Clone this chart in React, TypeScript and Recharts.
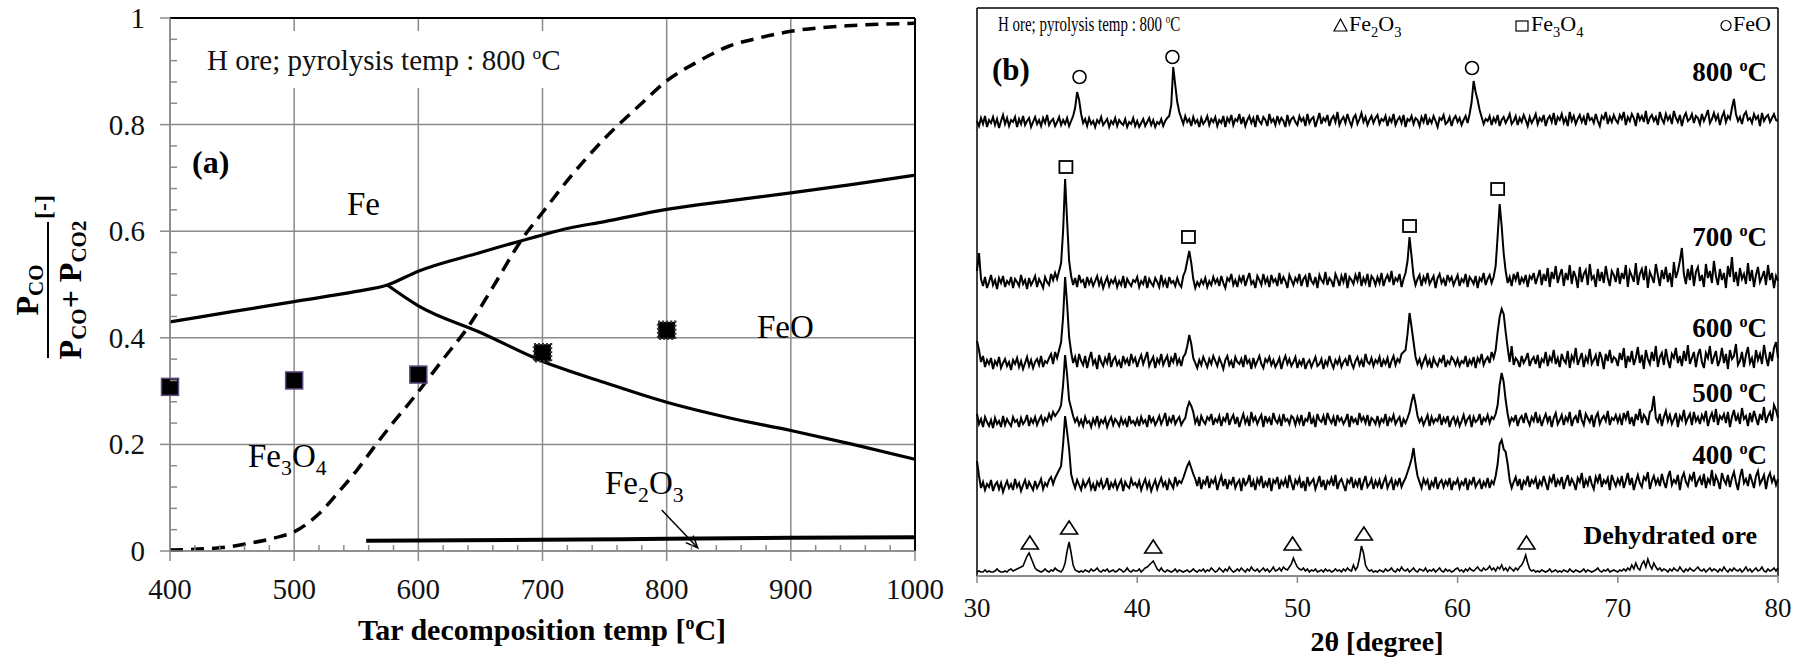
import React from "react";
import {
  ComposedChart,
  Line,
  Scatter,
  XAxis,
  YAxis,
  CartesianGrid,
  ReferenceLine,
} from "recharts";

document.body.style.margin = "0";

const SERIF = '"Liberation Serif", "Times New Roman", serif';
const GRID = "#8a8a8a";

// ---------- (a) equilibrium diagram ----------
const X_MAJOR = [400, 500, 600, 700, 800, 900, 1000];
const X_TICKS = Array.from({ length: 31 }, (_, i) => 400 + i * 20);
const Y_MAJOR = [0, 0.2, 0.4, 0.6, 0.8, 1];
const Y_TICKS = Array.from({ length: 26 }, (_, i) => Math.round(i * 4) / 100);

// Fe / Fe3O4 then Fe / FeO boundary
const UPPER_T = [400, 450, 500, 550, 575, 600, 650, 700, 720, 750, 800, 850, 900, 950, 1000];
const UPPER_V = [0.43, 0.449, 0.468, 0.487, 0.499, 0.525, 0.56, 0.593, 0.605, 0.618, 0.641, 0.657, 0.672, 0.688, 0.705];
// FeO / Fe3O4 boundary
const LOWER_T = [575, 600, 650, 700, 750, 800, 850, 900, 950, 1000];
const LOWER_V = [0.499, 0.46, 0.41, 0.356, 0.316, 0.279, 0.25, 0.226, 0.2, 0.172];
// Fe3O4 / Fe2O3 boundary
const HEM_T = [558, 700, 800, 900, 1000];
const HEM_V = [0.019, 0.021, 0.023, 0.025, 0.026];
// gas equilibrium (dashed)
const EQ_T = [400, 440, 465, 485, 500, 520, 537, 550, 566, 577, 596, 620, 640, 660, 685, 700, 720, 750, 780, 800, 825, 850, 875, 900, 950, 1000];
const EQ_V = [0.002, 0.006, 0.015, 0.025, 0.036, 0.07, 0.114, 0.15, 0.2, 0.233, 0.287, 0.36, 0.42, 0.495, 0.59, 0.635, 0.695, 0.774, 0.84, 0.882, 0.918, 0.947, 0.963, 0.975, 0.986, 0.99];
// measured points
const EXP_T = [400, 500, 600, 700, 800];
const EXP_V = [0.308, 0.32, 0.331, 0.372, 0.414];

const pts = (xs: number[], ys: number[]) => xs.map((x, i) => ({ x, y: ys[i] }));

// ---------- (b) XRD patterns, 2θ from 30 to 80 every 0.125 deg (one row = 5 deg) ----------
const XRD_START = 30;
const XRD_STEP = 0.125;
const XRD_TICKS = [30, 40, 50, 60, 70, 80];

const XRD_800 = [
  9, 4, 12, 6, 14, 3, 10, 7, 13, 5, 11, 2, 9, 15, 6, 12, 4, 10, 8, 13, 3, 11, 6, 14, 5, 9, 12, 3, 8, 13, 6, 10, 4, 12, 7, 15, 5, 9, 11, 4,
  8, 13, 5, 10, 6, 12, 4, 9, 14, 22, 38, 30, 16, 7, 11, 4, 12, 6, 9, 3, 10, 7, 13, 5, 8, 11, 3, 9, 6, 12, 4, 10, 7, 5, 11, 3, 8, 6, 12, 4,
  9, 3, 7, 11, 4, 8, 12, 5, 10, 3, 8, 6, 11, 4, 9, 12, 14, 25, 63, 45, 28, 18, 12, 6, 14, 8, 11, 4, 13, 7, 10, 3, 12, 6, 9, 14, 5, 11, 8, 13,
  4, 10, 7, 14, 3, 12, 8, 15, 5, 11, 9, 16, 6, 13, 4, 10, 14, 7, 12, 3, 15, 9, 6, 13, 10, 4, 16, 8, 11, 5, 14, 7, 12, 9, 3, 15, 6, 11, 13, 8,
  5, 14, 9, 12, 4, 16, 7, 11, 13, 3, 10, 17, 6, 12, 9, 15, 4, 11, 14, 8, 18, 5, 10, 13, 7, 16, 9, 4, 12, 15, 6, 11, 17, 8, 13, 5, 10, 14, 7, 12,
  15, 6, 11, 9, 14, 4, 12, 8, 16, 5, 10, 13, 7, 15, 3, 11, 9, 14, 6, 12, 10, 4, 13, 8, 16, 5, 11, 7, 14, 9, 3, 12, 10, 15, 6, 8, 13, 4, 11, 14,
  8, 12, 5, 10, 14, 7, 16, 28, 49, 38, 30, 20, 13, 6, 11, 9, 14, 5, 12, 8, 15, 4, 10, 13, 7, 11, 16, 6, 9, 14, 5, 12, 8, 15, 10, 4, 13, 7, 11, 16,
  6, 12, 9, 15, 4, 11, 14, 8, 17, 5, 13, 10, 16, 7, 12, 4, 18, 9, 14, 6, 11, 15, 8, 13, 5, 17, 10, 12, 7, 16, 9, 4, 14, 11, 18, 6, 13, 8, 15, 10,
  7, 15, 11, 18, 5, 13, 9, 16, 12, 4, 17, 10, 14, 8, 19, 6, 12, 15, 9, 13, 5, 18, 11, 7, 16, 10, 14, 6, 19, 12, 8, 15, 4, 13, 17, 9, 11, 16, 7, 14,
  12, 6, 16, 9, 14, 20, 7, 11, 17, 10, 15, 5, 13, 18, 8, 14, 11, 22, 31, 16, 9, 13, 6, 15, 18, 10, 12, 7, 16, 11, 14, 4, 17, 9, 13, 15, 8, 12, 16, 10,
  9,
];
const XRD_700 = [
  20, 38, 12, 5, 14, 3, 9, 16, 6, 11, 2, 13, 8, 15, 4, 10, 7, 14, 3, 12, 9, 5, 16, 7, 11, 2, 13, 6, 10, 15, 4, 12, 8, 3, 14, 9, 6, 17, 11, 18,
  12, 20, 28, 60, 112, 70, 30, 15, 6, 13, 4, 16, 9, 11, 3, 14, 7, 12, 5, 10, 15, 6, 12, 3, 9, 14, 5, 11, 8, 13, 4, 10, 6, 15, 3, 12, 8, 5, 11, 9,
  14, 4, 10, 7, 15, 3, 12, 8, 5, 13, 9, 4, 16, 6, 11, 3, 14, 8, 10, 5, 13, 7, 4, 15, 20, 30, 40, 28, 12, 3, 9, 5, 11, 7, 13, 4, 10, 6, 14, 8,
  12, 5, 15, 8, 3, 13, 10, 17, 6, 11, 4, 14, 9, 16, 5, 12, 18, 7, 10, 3, 15, 11, 6, 17, 8, 13, 4, 16, 9, 12, 5, 18, 7, 14, 10, 3, 16, 11, 6, 13,
  9, 17, 5, 12, 15, 4, 18, 10, 7, 14, 3, 16, 11, 8, 19, 6, 13, 10, 4, 17, 12, 5, 15, 9, 18, 3, 14, 11, 7, 16, 10, 19, 5, 13, 8, 17, 4, 15, 12, 6,
  14, 8, 18, 5, 12, 16, 9, 20, 6, 13, 10, 17, 4, 12, 18, 30, 54, 35, 15, 6, 12, 16, 5, 14, 9, 18, 7, 11, 15, 3, 13, 17, 8, 12, 5, 16, 10, 14, 6, 11,
  16, 5, 12, 9, 17, 4, 14, 11, 7, 15, 3, 13, 10, 18, 6, 12, 16, 8, 14, 25, 55, 87, 65, 38, 20, 8, 14, 5, 17, 11, 19, 6, 13, 9, 16, 4, 15, 12, 18, 7,
  14, 21, 6, 17, 10, 23, 4, 19, 12, 25, 8, 16, 22, 5, 18, 11, 26, 7, 20, 14, 3, 24, 9, 17, 21, 6, 27, 12, 15, 4, 22, 10, 19, 8, 25, 13, 5, 20, 16, 9,
  23, 7, 18, 12, 26, 4, 20, 15, 9, 28, 6, 17, 22, 11, 25, 3, 19, 14, 8, 27, 16, 5, 21, 12, 24, 9, 18, 4, 29, 13, 20, 30, 43, 17, 7, 22, 11, 26, 5, 19,
  24, 10, 16, 4, 27, 13, 20, 8, 30, 15, 6, 22, 11, 18, 3, 25, 14, 34, 9, 19, 5, 23, 12, 17, 7, 28, 10, 21, 4, 16, 24, 9, 14, 20, 6, 26, 11, 18, 3, 15,
  10,
];
const XRD_600 = [
  31, 22, 10, 16, 5, 12, 8, 14, 3, 11, 7, 15, 4, 9, 13, 6, 10, 2, 12, 8, 14, 5, 11, 3, 9, 15, 6, 12, 4, 10, 13, 7, 16, 5, 11, 9, 14, 18, 8, 20,
  14, 22, 30, 55, 95, 68, 35, 20, 9, 15, 5, 18, 11, 7, 16, 4, 13, 20, 8, 12, 3, 17, 10, 6, 14, 9, 19, 5, 12, 15, 7, 11, 4, 16, 9, 13, 6, 18, 10, 14,
  5, 12, 17, 8, 14, 20, 6, 11, 15, 4, 13, 9, 18, 7, 12, 16, 5, 14, 10, 19, 8, 13, 6, 15, 18, 26, 37, 28, 14, 9, 4, 12, 7, 15, 10, 5, 13, 8, 16, 11,
  6, 14, 9, 3, 12, 16, 7, 11, 4, 15, 10, 8, 13, 5, 17, 9, 12, 3, 14, 6, 11, 16, 8, 4, 13, 10, 15, 7, 12, 5, 9, 14, 3, 11, 16, 8, 13, 6, 10, 15,
  4, 11, 7, 14, 3, 9, 12, 5, 10, 15, 6, 8, 13, 3, 11, 7, 16, 9, 4, 12, 8, 14, 5, 10, 13, 6, 17, 9, 4, 11, 15, 7, 12, 5, 18, 10, 8, 14, 6, 12,
  9, 15, 5, 12, 8, 14, 4, 11, 16, 7, 13, 10, 18, 20, 22, 38, 59, 45, 30, 15, 8, 13, 5, 11, 16, 7, 12, 4, 14, 9, 6, 13, 10, 17, 5, 11, 8, 15, 12, 7,
  13, 6, 11, 9, 16, 5, 12, 8, 15, 4, 14, 10, 18, 7, 12, 15, 9, 20, 14, 22, 40, 55, 63, 58, 40, 24, 10, 26, 7, 14, 11, 5, 16, 9, 13, 19, 6, 12, 15, 8,
  17, 4, 13, 10, 20, 6, 15, 11, 22, 8, 14, 5, 18, 12, 9, 21, 4, 16, 11, 24, 7, 13, 19, 5, 15, 10, 23, 8, 12, 17, 6, 20, 14, 3, 18, 11, 22, 9, 15, 13,
  6, 19, 12, 24, 4, 16, 10, 21, 7, 14, 25, 9, 17, 3, 22, 13, 8, 20, 11, 26, 5, 15, 19, 7, 23, 12, 4, 18, 14, 24, 9, 16, 6, 21, 11, 27, 8, 14, 20, 5,
  17, 23, 10, 4, 19, 14, 26, 8, 15, 21, 6, 12, 24, 9, 18, 3, 22, 13, 16, 28, 7, 11, 20, 5, 17, 25, 9, 14, 4, 22, 12, 18, 8, 27, 15, 6, 20, 11, 24, 30,
  14,
];
const XRD_500 = [
  16, 6, 11, 3, 13, 8, 4, 10, 2, 12, 6, 9, 3, 14, 5, 11, 7, 4, 13, 8, 10, 3, 12, 6, 9, 15, 4, 11, 7, 13, 5, 10, 14, 6, 12, 9, 16, 11, 18, 14,
  17, 20, 25, 45, 75, 55, 30, 22, 14, 8, 12, 5, 10, 4, 13, 7, 9, 3, 11, 6, 14, 4, 10, 7, 12, 3, 9, 13, 5, 11, 8, 4, 12, 6, 10, 3, 14, 7, 9, 5,
  11, 4, 13, 7, 10, 3, 15, 8, 12, 5, 9, 14, 6, 11, 17, 4, 12, 8, 15, 6, 10, 13, 5, 9, 12, 22, 28, 24, 18, 7, 12, 4, 14, 9, 6, 13, 10, 16, 5, 11,
  8, 14, 4, 12, 9, 17, 5, 11, 15, 6, 13, 3, 10, 16, 7, 12, 4, 18, 9, 13, 6, 11, 15, 3, 14, 8, 12, 5, 17, 10, 7, 13, 4, 16, 9, 11, 6, 14, 12, 5,
  13, 7, 15, 4, 11, 9, 18, 6, 12, 3, 16, 10, 8, 14, 5, 17, 11, 7, 13, 4, 15, 9, 12, 6, 10, 16, 3, 14, 8, 11, 5, 17, 9, 13, 7, 15, 4, 12, 10, 6,
  14, 5, 11, 8, 16, 4, 12, 9, 15, 6, 10, 13, 3, 11, 7, 12, 18, 28, 36, 26, 14, 8, 12, 5, 10, 15, 4, 13, 7, 11, 9, 16, 5, 12, 8, 14, 3, 10, 13, 6,
  12, 4, 9, 15, 6, 11, 14, 3, 13, 8, 10, 16, 5, 12, 9, 15, 7, 13, 11, 16, 25, 45, 57, 48, 30, 16, 6, 12, 9, 15, 4, 11, 14, 7, 17, 10, 5, 13, 9, 18,
  7, 13, 4, 11, 16, 8, 14, 3, 12, 17, 6, 10, 15, 5, 13, 9, 18, 4, 11, 14, 7, 20, 10, 5, 16, 12, 8, 15, 3, 13, 17, 6, 11, 14, 9, 19, 5, 12, 10, 15,
  8, 14, 5, 17, 11, 19, 6, 13, 4, 16, 10, 21, 7, 15, 12, 5, 18, 20, 34, 12, 8, 16, 4, 13, 19, 9, 15, 6, 11, 17, 3, 14, 10, 20, 7, 12, 16, 5, 18, 9,
  13, 6, 15, 10, 19, 4, 12, 17, 8, 21, 5, 14, 11, 16, 7, 18, 3, 13, 20, 9, 15, 6, 22, 11, 14, 4, 17, 8, 19, 12, 5, 16, 10, 23, 7, 14, 18, 9, 25, 20,
  12,
];
const XRD_400 = [
  33, 18, 6, 12, 4, 10, 7, 14, 3, 9, 12, 5, 11, 2, 8, 13, 6, 10, 4, 15, 7, 11, 3, 9, 14, 5, 12, 8, 4, 13, 6, 10, 15, 5, 11, 8, 14, 17, 10, 16,
  20, 24, 28, 50, 78, 62, 45, 20, 12, 6, 14, 9, 4, 13, 7, 11, 15, 5, 10, 3, 12, 8, 14, 6, 9, 16, 4, 11, 7, 13, 5, 10, 14, 3, 12, 8, 6, 15, 9, 11,
  7, 13, 4, 10, 15, 6, 12, 3, 9, 14, 5, 11, 16, 8, 12, 4, 14, 10, 6, 17, 9, 13, 11, 16, 22, 28, 32, 26, 20, 15, 8, 17, 5, 13, 10, 18, 6, 14, 11, 16,
  4, 12, 18, 8, 15, 5, 13, 10, 17, 6, 11, 14, 3, 16, 9, 12, 19, 7, 13, 4, 15, 10, 18, 6, 12, 8, 16, 3, 14, 11, 17, 5, 13, 9, 15, 6, 19, 11, 4, 14,
  10, 16, 6, 13, 3, 17, 9, 12, 15, 5, 11, 18, 7, 14, 4, 13, 10, 16, 8, 19, 5, 12, 15, 9, 3, 14, 11, 17, 6, 13, 8, 16, 4, 12, 18, 7, 10, 15, 5, 13,
  8, 14, 5, 12, 17, 6, 11, 15, 4, 13, 9, 16, 7, 12, 16, 22, 28, 35, 46, 30, 18, 12, 6, 15, 10, 14, 4, 12, 8, 17, 5, 11, 14, 7, 13, 9, 16, 4, 12, 10,
  15, 6, 12, 9, 16, 4, 13, 10, 17, 7, 11, 14, 5, 12, 8, 16, 6, 13, 10, 18, 30, 50, 54, 45, 42, 30, 14, 6, 12, 17, 8, 15, 4, 13, 10, 18, 7, 14, 11, 16,
  5, 13, 9, 18, 11, 4, 16, 12, 20, 7, 14, 10, 17, 5, 13, 19, 8, 15, 11, 4, 16, 12, 21, 6, 14, 9, 18, 10, 5, 17, 12, 20, 7, 14, 11, 16, 4, 19, 13, 8,
  15, 10, 18, 6, 13, 21, 9, 16, 4, 12, 19, 11, 7, 17, 14, 22, 5, 13, 18, 10, 15, 8, 20, 12, 6, 17, 23, 9, 14, 11, 19, 4, 16, 21, 12, 8, 18, 14, 22, 7,
  13, 17, 9, 20, 6, 15, 11, 24, 8, 18, 13, 5, 21, 14, 10, 19, 7, 16, 22, 12, 4, 17, 25, 11, 15, 8, 20, 13, 6, 18, 23, 10, 14, 19, 5, 16, 21, 12, 17, 9,
  15,
];
const XRD_DEHYD = [
  1, 2, 1, 1, 3, 1, 2, 1, 1, 2, 4, 2, 1, 1, 2, 1, 3, 4, 2, 3, 4, 5, 6, 7, 12, 17, 20, 15, 10, 5, 3, 2, 1, 2, 4, 2, 1, 3, 2, 5,
  3, 2, 1, 4, 10, 22, 31, 20, 8, 3, 2, 1, 2, 1, 3, 2, 1, 4, 2, 3, 5, 2, 1, 3, 2, 4, 1, 2, 3, 1, 2, 4, 3, 1, 2, 5, 2, 1, 3, 2,
  2, 4, 1, 3, 5, 6, 8, 10, 12, 8, 4, 2, 5, 2, 1, 3, 2, 1, 2, 4, 1, 3, 2, 1, 2, 3, 1, 2, 4, 2, 1, 3, 2, 4, 1, 3, 2, 5, 3, 1,
  2, 5, 3, 1, 4, 2, 6, 3, 1, 2, 4, 2, 5, 3, 1, 4, 2, 6, 3, 2, 4, 1, 3, 5, 2, 4, 1, 3, 6, 2, 3, 5, 2, 6, 4, 3, 6, 9, 15, 10,
  6, 4, 3, 5, 2, 4, 1, 3, 2, 4, 1, 2, 3, 1, 4, 2, 3, 1, 2, 4, 2, 3, 1, 4, 2, 5, 3, 2, 8, 3, 6, 15, 27, 20, 8, 4, 2, 3, 1, 2,
  1, 3, 2, 1, 4, 2, 3, 5, 2, 1, 4, 2, 6, 3, 2, 4, 1, 3, 5, 2, 1, 4, 3, 2, 5, 1, 3, 2, 4, 1, 3, 5, 2, 1, 4, 2, 3, 1, 2, 4,
  5, 2, 3, 1, 4, 2, 5, 3, 2, 4, 6, 3, 2, 5, 3, 4, 7, 3, 5, 2, 6, 4, 8, 3, 5, 2, 6, 4, 2, 5, 3, 6, 8, 12, 18, 10, 4, 2, 3, 1,
  2, 1, 3, 2, 1, 2, 4, 1, 2, 3, 1, 2, 1, 3, 2, 1, 4, 2, 1, 3, 2, 1, 2, 4, 1, 3, 2, 1, 2, 3, 5, 2, 1, 3, 2, 4, 1, 2, 3, 2,
  1, 3, 2, 4, 2, 5, 3, 8, 4, 10, 5, 3, 9, 12, 6, 14, 8, 4, 10, 6, 3, 5, 2, 4, 3, 1, 4, 2, 5, 3, 2, 6, 3, 1, 4, 2, 5, 3, 2, 4,
  6, 3, 2, 4, 1, 3, 5, 2, 4, 3, 1, 4, 2, 6, 3, 1, 4, 2, 5, 3, 2, 4, 1, 3, 6, 2, 4, 1, 3, 5, 2, 3, 6, 2, 1, 4, 2, 3, 5, 2,
  5,
];

const XRD_SERIES = [XRD_800, XRD_700, XRD_600, XRD_500, XRD_400, XRD_DEHYD];
// vertical stacking offset of each pattern
const XRD_OFFSETS = [446, 285, 204, 146, 82, 3];
const XRD_KEYS = ["p800", "p700", "p600", "p500", "p400", "dehyd"];

const XRD_ROWS = XRD_800.map((_, i) => {
  const row: Record<string, number> = { x: XRD_START + i * XRD_STEP };
  XRD_KEYS.forEach((k, s) => {
    row[k] = XRD_OFFSETS[s] + XRD_SERIES[s][i];
  });
  return row;
});

// peak markers
const FEO_2T = [36.4, 42.2, 60.9];
const FEO_Y = [499, 519, 508];
const MAG_2T = [35.55, 43.2, 57.0, 62.5];
const MAG_Y = [409, 339, 350, 387];
const HEM_2T = [33.3, 35.75, 41.0, 49.7, 54.15, 64.3];
const HEM_Y = [33, 48, 29, 32, 42, 33];

// ---------- ticks and marker shapes ----------
function PhaseXTick(props: any) {
  const { x, y, payload } = props;
  const v = payload.value;
  if (v % 100 !== 0) {
    return <line x1={x} x2={x} y1={y} y2={y - 6} stroke={GRID} strokeWidth={1.5} />;
  }
  return (
    <g>
      <line x1={x} x2={x} y1={y} y2={y + 10} stroke={GRID} strokeWidth={1.5} />
      <text x={x} y={y + 48} textAnchor="middle" fontSize={29} fontFamily={SERIF} fill="#111">
        {v}
      </text>
    </g>
  );
}

function PhaseYTick(props: any) {
  const { x, y, payload } = props;
  const v = payload.value;
  const major = Math.abs(v * 5 - Math.round(v * 5)) < 1e-6;
  if (!major) {
    return <line x1={x} x2={x + 7} y1={y} y2={y} stroke={GRID} strokeWidth={1.5} />;
  }
  return (
    <g>
      <line x1={x - 10} x2={x} y1={y} y2={y} stroke={GRID} strokeWidth={1.5} />
      <text x={x - 25} y={y + 10} textAnchor="end" fontSize={29} fontFamily={SERIF} fill="#111">
        {String(Math.round(v * 10) / 10)}
      </text>
    </g>
  );
}

function XrdXTick(props: any) {
  const { x, y, payload } = props;
  return (
    <g>
      <line x1={x} x2={x} y1={y} y2={y + 7} stroke={GRID} strokeWidth={1.5} />
      <text x={x} y={y + 41} textAnchor="middle" fontSize={27} fontFamily={SERIF} fill="#111">
        {payload.value}
      </text>
    </g>
  );
}

function ExpSquare(p: any) {
  const late = p.payload && p.payload.x >= 700;
  return (
    <rect
      x={p.cx - 8.5}
      y={p.cy - 8.5}
      width={17}
      height={17}
      fill="#000"
      stroke={late ? "#333" : "#5e4a7e"}
      strokeWidth={late ? 2.5 : 1.5}
      strokeDasharray={late ? "2 2" : undefined}
    />
  );
}

function Arrow(p: any) {
  const { x1, y1, x2, y2 } = p;
  const a = Math.atan2(y2 - y1, x2 - x1);
  const L = 13;
  const ax = x2 - L * Math.cos(a - 0.4);
  const ay = y2 - L * Math.sin(a - 0.4);
  const bx = x2 - L * Math.cos(a + 0.4);
  const by = y2 - L * Math.sin(a + 0.4);
  return (
    <g>
      <line x1={x1} y1={y1} x2={x2} y2={y2} stroke="#000" strokeWidth={1.5} />
      <polyline points={`${ax},${ay} ${x2},${y2} ${bx},${by}`} fill="none" stroke="#000" strokeWidth={1.5} />
    </g>
  );
}

const CircleMark = (p: any) => (
  <circle cx={p.cx} cy={p.cy} r={6.5} fill="#fff" stroke="#000" strokeWidth={1.6} />
);
const SquareMark = (p: any) => (
  <rect x={p.cx - 6.5} y={p.cy - 6} width={13} height={12} fill="#fff" stroke="#000" strokeWidth={1.8} />
);
const TriangleMark = (p: any) => (
  <polygon
    points={`${p.cx},${p.cy - 7} ${p.cx - 8.5},${p.cy + 6} ${p.cx + 8.5},${p.cy + 6}`}
    fill="#fff"
    stroke="#000"
    strokeWidth={1.6}
  />
);

function Deg({ size }: { size: number }) {
  return (
    <>
      <tspan fontSize={size * 0.6} dy={-size * 0.38}>
        o
      </tspan>
      <tspan dy={size * 0.38}>C</tspan>
    </>
  );
}

function Formula({ parts, size }: { parts: [string, string][]; size: number }) {
  // parts: [main, subscript]
  return (
    <>
      {parts.map(([m, s], i) => (
        <React.Fragment key={i}>
          <tspan dy={i === 0 ? 0 : -size * 0.25}>{m}</tspan>
          {s ? (
            <tspan fontSize={size * 0.66} dy={size * 0.25}>
              {s}
            </tspan>
          ) : null}
        </React.Fragment>
      ))}
    </>
  );
}

function PhaseChart() {
  return (
    <ComposedChart width={950} height={657} margin={{ top: 18, right: 35, bottom: 66, left: 110 }}>
      <CartesianGrid stroke={GRID} strokeWidth={1.5} horizontalValues={Y_MAJOR} verticalValues={X_MAJOR} />
      <XAxis
        type="number"
        dataKey="x"
        domain={[400, 1000]}
        ticks={X_TICKS}
        interval={0}
        tickSize={0}
        tickMargin={0}
        tickLine={false}
        height={40}
        axisLine={{ stroke: GRID, strokeWidth: 1.5 }}
        tick={(p: any) => <PhaseXTick {...p} />}
      />
      <YAxis
        type="number"
        domain={[0, 1]}
        ticks={Y_TICKS}
        interval={0}
        tickSize={0}
        tickMargin={0}
        tickLine={false}
        width={60}
        axisLine={{ stroke: GRID, strokeWidth: 1.5 }}
        tick={(p: any) => <PhaseYTick {...p} />}
      />
      <ReferenceLine y={1} stroke="#000" strokeWidth={2} />
      <ReferenceLine x={1000} stroke="#000" strokeWidth={2} />
      <Line data={pts(UPPER_T, UPPER_V)} dataKey="y" type="monotone" stroke="#000" strokeWidth={3.2} dot={false} isAnimationActive={false} />
      <Line data={pts(LOWER_T, LOWER_V)} dataKey="y" type="monotone" stroke="#000" strokeWidth={3.2} dot={false} isAnimationActive={false} />
      <Line data={pts(HEM_T, HEM_V)} dataKey="y" type="monotone" stroke="#000" strokeWidth={4} dot={false} isAnimationActive={false} />
      <Line data={pts(EQ_T, EQ_V)} dataKey="y" type="monotone" stroke="#000" strokeWidth={3.5} strokeDasharray="13 8" dot={false} isAnimationActive={false} />
      <ReferenceLine segment={[{ x: 796, y: 0.077 }, { x: 825, y: 0.006 }]} shape={Arrow} />
      <Scatter data={pts(EXP_T, EXP_V)} dataKey="y" shape={ExpSquare} isAnimationActive={false} />
    </ComposedChart>
  );
}

function XrdChart() {
  return (
    <ComposedChart width={846} height={657} data={XRD_ROWS} margin={{ top: 8, right: 18, bottom: 41, left: 27 }}>
      <XAxis
        type="number"
        dataKey="x"
        domain={[30, 80]}
        ticks={XRD_TICKS}
        interval={0}
        tickSize={0}
        tickMargin={0}
        tickLine={false}
        height={40}
        axisLine={{ stroke: GRID, strokeWidth: 2 }}
        tick={(p: any) => <XrdXTick {...p} />}
      />
      <YAxis hide type="number" domain={[0, 568]} />
      <ReferenceLine x={30} stroke="#000" strokeWidth={1.5} />
      <ReferenceLine x={80} stroke="#000" strokeWidth={1.5} />
      <ReferenceLine y={568} stroke="#000" strokeWidth={1.5} />
      {XRD_KEYS.map((k) => (
        <Line key={k} dataKey={k} type="linear" stroke="#000" strokeWidth={k === "dehyd" ? 1.6 : 2} dot={false} isAnimationActive={false} />
      ))}
      <Scatter data={pts(FEO_2T, FEO_Y)} dataKey="y" shape={CircleMark} isAnimationActive={false} />
      <Scatter data={pts(MAG_2T, MAG_Y)} dataKey="y" shape={SquareMark} isAnimationActive={false} />
      <Scatter data={pts(HEM_2T, HEM_Y)} dataKey="y" shape={TriangleMark} isAnimationActive={false} />
    </ComposedChart>
  );
}

function Labels() {
  const temps: [string, number][] = [
    ["800 ", 81],
    ["700 ", 246],
    ["600 ", 337],
    ["500 ", 402],
    ["400 ", 464],
  ];
  return (
    <svg width={1796} height={657} style={{ position: "absolute", left: 0, top: 0, pointerEvents: "none" }} fontFamily={SERIF}>
      {/* panel (a) */}
      <rect x={196} y={31} width={382} height={57} fill="#fff" />
      <text x={207} y={70} fontSize={29} fill="#111">
        H ore; pyrolysis temp : 800 <Deg size={29} />
      </text>
      <text x={192} y={173} fontSize={32} fontWeight="bold">
        (a)
      </text>
      <text x={347} y={215} fontSize={33}>
        Fe
      </text>
      <text x={757} y={338} fontSize={33}>
        FeO
      </text>
      <text x={248} y={467} fontSize={33}>
        <Formula size={33} parts={[["Fe", "3"], ["O", "4"]]} />
      </text>
      <text x={605} y={494} fontSize={33}>
        <Formula size={33} parts={[["Fe", "2"], ["O", "3"]]} />
      </text>
      <g transform="translate(48,290) rotate(-90)" fontWeight="bold" fill="#000">
        <text x={0} y={-10} textAnchor="middle" fontSize={32}>
          P<tspan fontSize={21} dy={5}>CO</tspan>
        </text>
        <line x1={-68} x2={68} y1={0} y2={0} stroke="#000" strokeWidth={2} />
        <text x={0} y={33} textAnchor="middle" fontSize={32}>
          P<tspan fontSize={21} dy={5}>CO</tspan>
          <tspan dy={-5}>+ P</tspan>
          <tspan fontSize={21} dy={5}>CO2</tspan>
        </text>
        <text x={71} y={3} fontSize={24}>
          [-]
        </text>
      </g>
      <text x={542} y={640} textAnchor="middle" fontSize={30} fontWeight="bold">
        Tar decomposition temp [<Deg size={30} />]
      </text>

      {/* panel (b) */}
      <g transform="translate(998,31) scale(0.68,1)">
        <text x={0} y={0} fontSize={22}>
          H ore; pyrolysis temp : 800 <Deg size={22} />
        </text>
      </g>
      <polygon points="1334,31 1347,31 1340.5,19" fill="none" stroke="#000" strokeWidth={1.2} />
      <text x={1349} y={31} fontSize={22}>
        <Formula size={22} parts={[["Fe", "2"], ["O", "3"]]} />
      </text>
      <rect x={1516} y={21} width={12} height={10} fill="none" stroke="#000" strokeWidth={1.2} />
      <text x={1531} y={31} fontSize={22}>
        <Formula size={22} parts={[["Fe", "3"], ["O", "4"]]} />
      </text>
      <circle cx={1726} cy={25.5} r={5} fill="none" stroke="#000" strokeWidth={1.2} />
      <text x={1733} y={31} fontSize={22}>
        FeO
      </text>
      <text x={992} y={80} fontSize={31} fontWeight="bold">
        (b)
      </text>
      {temps.map(([t, y]) => (
        <text key={t} x={1767} y={y} textAnchor="end" fontSize={27} fontWeight="bold">
          {t}
          <Deg size={27} />
        </text>
      ))}
      <text x={1757} y={544} textAnchor="end" fontSize={26} fontWeight="bold">
        Dehydrated ore
      </text>
      <text x={1377} y={651} textAnchor="middle" fontSize={28} fontWeight="bold">
        2θ [degree]
      </text>
    </svg>
  );
}

export default function App() {
  return (
    <div style={{ position: "relative", width: 1796, height: 657, background: "#fff", fontFamily: SERIF }}>
      <div style={{ position: "absolute", left: 0, top: 0 }}>
        <PhaseChart />
      </div>
      <div style={{ position: "absolute", left: 950, top: 0 }}>
        <XrdChart />
      </div>
      <Labels />
    </div>
  );
}
